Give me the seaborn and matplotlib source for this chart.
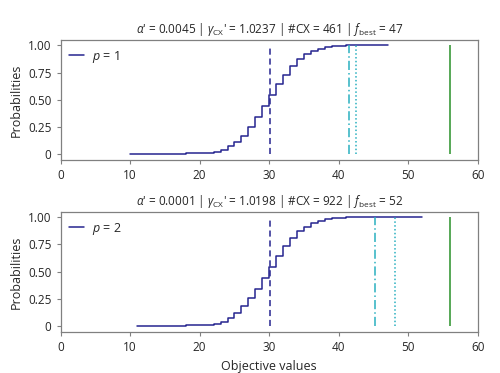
import matplotlib
matplotlib.use("Agg")
import matplotlib.pyplot as plt
import pandas as pd
import seaborn as sns

# ---------------------------------------------------------------------------
# Data
# ---------------------------------------------------------------------------
x_p1 = list(range(10, 48))
cdf_p1 = [0.0, 0.0005, 0.001, 0.0015, 0.002, 0.0025, 0.003, 0.004, 0.005, 0.006,
          0.008, 0.012, 0.02, 0.04, 0.07, 0.11, 0.17, 0.25, 0.34, 0.44,
          0.54, 0.64, 0.73, 0.81, 0.87, 0.92, 0.95, 0.97, 0.985, 0.993,
          0.997, 1.0, 1.0, 1.0, 1.0, 1.0, 1.0, 1.0]

x_p2 = list(range(11, 53))
cdf_p2 = [0.0, 0.0005, 0.001, 0.0015, 0.002, 0.003, 0.004, 0.005, 0.006,
          0.008, 0.012, 0.02, 0.04, 0.075, 0.12, 0.18, 0.26, 0.34, 0.44,
          0.545, 0.645, 0.735, 0.81, 0.87, 0.915, 0.95, 0.97, 0.985, 0.993,
          0.997, 1.0, 1.0, 1.0, 1.0, 1.0, 1.0, 1.0, 1.0, 1.0, 1.0, 1.0, 1.0]

# vertical markers: (dashed, dash-dot, dotted, solid best)
vlines_p1 = [30.1, 41.5, 42.4, 56.0]
vlines_p2 = [30.05, 45.2, 48.1, 56.0]

titles = [
    r"$\alpha$' = 0.0045 | $\gamma_{\mathrm{CX}}$' = 1.0237 | #CX = 461 | $f_{\mathrm{best}}$ = 47",
    r"$\alpha$' = 0.0001 | $\gamma_{\mathrm{CX}}$' = 1.0198 | #CX = 922 | $f_{\mathrm{best}}$ = 52",
]
legend_labels = [r"$p$ = 1", r"$p$ = 2"]
yticks = [0, 0.25, 0.5, 0.75, 1.0]
ytick_labels = ["0", "0.25", "0.50", "0.75", "1.00"]

# ---------------------------------------------------------------------------
sns.set_theme(style="ticks")
plt.rcParams["font.family"] = ["Open Sans", "DejaVu Sans"]
plt.rcParams["mathtext.fontset"] = "custom"
plt.rcParams["mathtext.rm"] = "Open Sans"
plt.rcParams["mathtext.it"] = "Open Sans:italic"
plt.rcParams["font.size"] = 8.5

LINE = "#26258f"
TEAL = "#2ab0c0"
GREEN = "#3a9a3a"
SPINE = "#808080"

fig = plt.figure(figsize=(5.0, 3.73), dpi=100)
ax1 = fig.add_axes([0.121, 0.571, 0.835, 0.322])
ax2 = fig.add_axes([0.121, 0.110, 0.835, 0.322])

panels = [
    (ax1, x_p1, cdf_p1, vlines_p1, titles[0], legend_labels[0]),
    (ax2, x_p2, cdf_p2, vlines_p2, titles[1], legend_labels[1]),
]

for ax, xs, ys, vl, title, lab in panels:
    df = pd.DataFrame({"x": xs, "cdf": ys})
    sns.lineplot(data=df, x="x", y="cdf", ax=ax, color=LINE, lw=1.1,
                 drawstyle="steps-post", label=lab)
    ax.vlines(vl[0], 0, 1, colors=LINE, linestyles=(0, (4, 2.5)), lw=1.1)
    ax.vlines(vl[1], 0, 1, colors=TEAL, linestyles=(0, (6, 2, 1, 2)), lw=1.1)
    ax.vlines(vl[2], 0, 1, colors=TEAL, linestyles=(0, (1, 1.5)), lw=1.1)
    ax.vlines(vl[3], 0, 1, colors=GREEN, linestyles="solid", lw=1.2)

    ax.set_xlim(0, 60)
    ax.set_ylim(-0.055, 1.05)
    ax.set_xticks(range(0, 61, 10))
    ax.set_yticks(yticks)
    ax.set_yticklabels(ytick_labels)
    ax.set_ylabel("Probabilities", fontsize=9)
    ax.set_xlabel("")
    ax.set_title(title, fontsize=8.5, pad=5)
    ax.tick_params(labelsize=8.5, length=3, width=0.8, color=SPINE)
    for s in ax.spines.values():
        s.set_visible(True)
        s.set_color(SPINE)
        s.set_linewidth(0.9)
    ax.legend(loc="upper left", frameon=False, fontsize=9,
              handlelength=1.2, handletextpad=0.6, borderaxespad=0.3)

ax2.set_xlabel("Objective values", fontsize=9)

fig.savefig("out.png", dpi=100)
